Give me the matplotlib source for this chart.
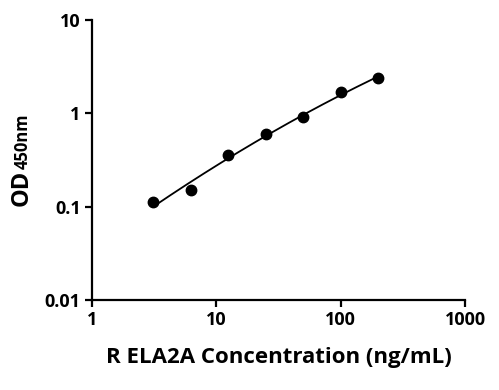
import numpy as np
import matplotlib.pyplot as plt

plt.rcParams['font.family'] = ['Open Sans', 'DejaVu Sans']
plt.rcParams['font.weight'] = 'bold'

# standard curve data
conc = [3.125, 6.25, 12.5, 25, 50, 100, 200]
od = [0.111, 0.149, 0.353, 0.604, 0.912, 1.69, 2.36]

# smooth fit in log-log space
coef = np.polyfit(np.log10(conc), np.log10(od), 2)
xfit = np.logspace(np.log10(conc[0]), np.log10(conc[-1]), 200)
yfit = 10 ** np.polyval(coef, np.log10(xfit))

fig = plt.figure(figsize=(4.99, 3.9), dpi=100)
ax = fig.add_axes([0.184, 0.231, 0.748, 0.718])

ax.plot(xfit, yfit, color='black', lw=1.3)
ax.plot(conc, od, 'o', color='black', ms=7.5)

ax.set_xscale('log')
ax.set_yscale('log')
ax.set_xlim(1, 1000)
ax.set_ylim(0.01, 10)
ax.set_xticks([1, 10, 100, 1000])
ax.set_xticklabels(['1', '10', '100', '1000'])
ax.set_yticks([0.01, 0.1, 1, 10])
ax.set_yticklabels(['0.01', '0.1', '1', '10'])
ax.minorticks_off()

for s in ['top', 'right']:
    ax.spines[s].set_visible(False)
for s in ['left', 'bottom']:
    ax.spines[s].set_linewidth(1.6)
ax.tick_params(direction='out', length=5, width=1.6, labelsize=13, pad=3)

ax.set_xlabel('R ELA2A Concentration (ng/mL)', fontsize=16, fontweight='bold', labelpad=13)

# y label: "OD" with smaller "450nm" on same baseline
t1 = fig.text(28 / 499, 1 - 206 / 390, 'OD', rotation=90, rotation_mode='anchor',
              ha='left', va='baseline', fontsize=17, fontweight='bold')
fig.canvas.draw()
bb = t1.get_window_extent().transformed(fig.transFigure.inverted())
fig.text(28 / 499, bb.y1 + 0.003, '450nm', rotation=90, rotation_mode='anchor',
         ha='left', va='baseline', fontsize=12, fontweight='bold')

fig.savefig('out.png', dpi=100)
